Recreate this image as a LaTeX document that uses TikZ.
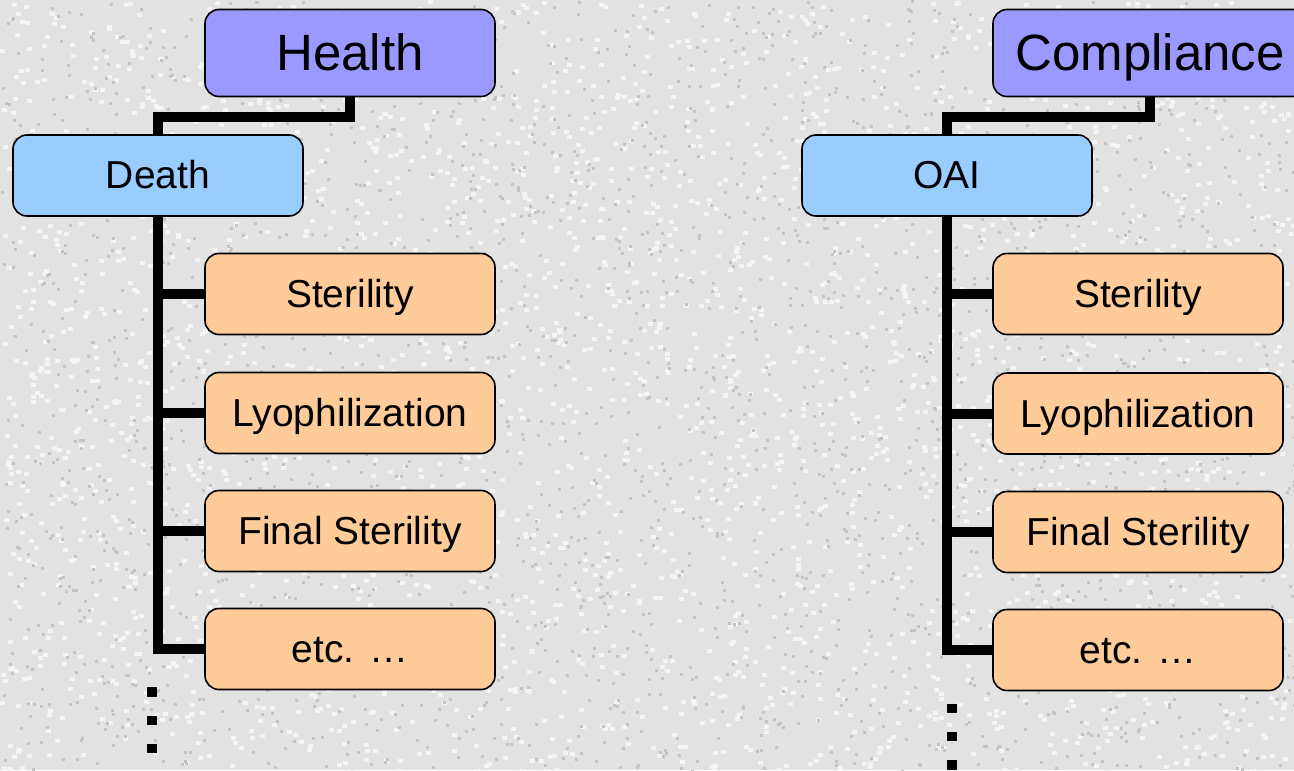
\documentclass[tikz,border=0pt]{standalone}
\usepackage{fontspec}
\setmainfont{Liberation Sans}
\definecolor{bgc}{HTML}{E2E2E2}
\definecolor{specd}{HTML}{C4C4C4}
\definecolor{specl}{HTML}{F4F4F4}
\definecolor{topc}{HTML}{9999FF}
\definecolor{midc}{HTML}{99CCFF}
\definecolor{leafc}{HTML}{FFCC99}
\tikzset{
  box/.style={draw=black, line width=0.8pt, rounded corners=7pt, minimum width=145pt, inner sep=0pt, align=center},
  topbox/.style={box, fill=topc, minimum height=43.5pt, font=\fontsize{25.5pt}{29pt}\selectfont, text height=23.1pt, text depth=5.4pt},
  midbox/.style={box, fill=midc, minimum height=40.5pt, font=\fontsize{19.5pt}{23pt}\selectfont, text height=17.6pt, text depth=4.1pt},
  leafbox/.style={box, fill=leafc, minimum height=40.5pt, font=\fontsize{19.5pt}{23pt}\selectfont, text height=17.6pt, text depth=4.1pt},
  conn/.style={line width=5pt, black},
  dotsq/.style={fill=black}
}
\begin{document}
\begin{tikzpicture}[x=0.5pt,y=-0.5pt]
\useasboundingbox (0,0) rectangle (1294,770);
\fill[bgc] (0,0) rectangle (1294,770);
\pgfmathsetseed{11}
\foreach \i in {1,...,3000}{
  \pgfmathsetmacro{\rx}{rnd*1294}
  \pgfmathsetmacro{\ry}{rnd*770}
  \fill[specl] (\rx,\ry) rectangle ++(5,4);
}
\foreach \i in {1,...,2500}{
  \pgfmathsetmacro{\rx}{rnd*1294}
  \pgfmathsetmacro{\ry}{rnd*770}
  \fill[specd] (\rx,\ry) rectangle ++(3,3);
}
% left tree
\node[topbox] (health) at (350,53) {Health};
\node[midbox] (death) at (158,175.5) {Death};
\node[leafbox] (lster) at (350,294) {Sterility};
\node[leafbox] (llyo) at (350,413) {Lyophilization};
\node[leafbox] (lfin) at (350,531) {Final Sterility};
\node[leafbox] (letc) at (350,649) {etc. \ldots};
\draw[conn] (health.south) -- (health.south |- 0,117) -| (death.north);
\draw[conn] (death.south) |- (letc.west);
\draw[conn] (death.south |- lster.west) -- (lster.west);
\draw[conn] (death.south |- llyo.west) -- (llyo.west);
\draw[conn] (death.south |- lfin.west) -- (lfin.west);
\fill[dotsq] (147,687) rectangle (157,697);
\fill[dotsq] (147,716) rectangle (157,725);
\fill[dotsq] (147,744) rectangle (157,753);
% right tree
\node[topbox, minimum width=157pt] (compl) at (1150,53) {Compliance};
\node[midbox] (oai) at (947,175.5) {OAI};
\node[leafbox] (rster) at (1138,294) {Sterility};
\node[leafbox] (rlyo) at (1138,413.5) {Lyophilization};
\node[leafbox] (rfin) at (1138,532) {Final Sterility};
\node[leafbox] (retc) at (1138,650) {etc. \ldots};
\draw[conn] (compl.south) -- (compl.south |- 0,117) -| (oai.north);
\draw[conn] (oai.south) |- (retc.west);
\draw[conn] (oai.south |- rster.west) -- (rster.west);
\draw[conn] (oai.south |- rlyo.west) -- (rlyo.west);
\draw[conn] (oai.south |- rfin.west) -- (rfin.west);
\fill[dotsq] (947,704) rectangle (957,713);
\fill[dotsq] (947,732) rectangle (957,741);
\fill[dotsq] (947,760) rectangle (957,770);
\end{tikzpicture}
\end{document}
